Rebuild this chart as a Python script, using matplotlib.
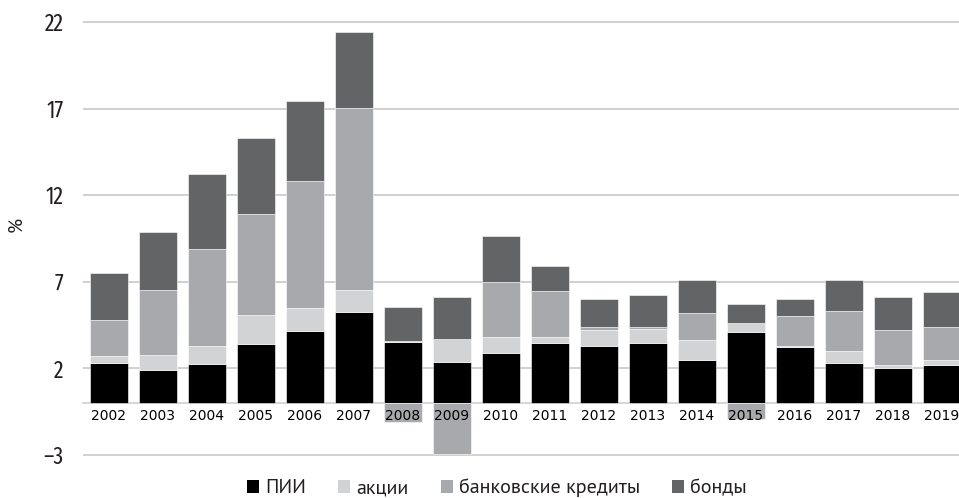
import matplotlib
matplotlib.use("Agg")
import matplotlib.pyplot as plt
from matplotlib.patches import Patch
import numpy as np

years = ["2002", "2003", "2004", "2005", "2006", "2007", "2008", "2009", "2010",
         "2011", "2012", "2013", "2014", "2015", "2016", "2017", "2018", "2019"]
fdi = [2.32, 1.89, 2.28, 3.39, 4.18, 5.28, 3.51, 2.39, 2.87, 3.49, 3.30, 3.49, 2.51, 4.09, 3.22, 2.32, 2.01, 2.18]
equity = [0.38, 0.91, 1.04, 1.72, 1.33, 1.23, 0.10, 1.31, 0.95, 0.33, 0.94, 0.81, 1.11, 0.54, 0.08, 0.67, 0.17, 0.33]
loans = [2.12, 3.71, 5.60, 5.82, 7.31, 10.52, -1.10, -2.97, 3.19, 2.62, 0.17, 0.11, 1.58, -0.90, 1.71, 2.31, 2.02, 1.89]
bonds = [2.69, 3.37, 4.31, 4.37, 4.60, 4.39, 1.92, 2.43, 2.62, 1.48, 1.58, 1.81, 1.93, 1.09, 1.00, 1.83, 1.91, 1.99]

series_names = ["ПИИ", "акции", "банковские кредиты", "бонды"]
colors = ["#000000", "#d1d3d4", "#a7a9ac", "#636466"]
yticks = [-3, 2, 7, 12, 17, 22]
ytick_labels = ["–3", "2", "7", "12", "17", "22"]

tick_font = ["Fira Sans Extra Condensed", "PT Sans Narrow", "DejaVu Sans"]
leg_font = ["PT Sans", "Open Sans", "DejaVu Sans"]

W, H = 959, 498
fig = plt.figure(figsize=(W / 100, H / 100), dpi=100)
y_lo, y_hi = -3.1, 22.1
px_per_unit = (455 - 22) / 25.0
top_px = 22 - (y_hi - 22) * px_per_unit
bot_px = 455 + (-3 - y_lo) * px_per_unit
ax = fig.add_axes([83 / W, 1 - bot_px / H, (W - 83) / W, (bot_px - top_px) / H])

x = np.arange(len(years))
pos_bottom = np.zeros(len(years))
neg_bottom = np.zeros(len(years))
for vals, col in zip([fdi, equity, loans, bonds], colors):
    v = np.array(vals)
    bottoms = np.where(v >= 0, pos_bottom, neg_bottom)
    ax.bar(x, v, width=0.77, bottom=bottoms, color=col, edgecolor="white",
           linewidth=0.4, zorder=2)
    pos_bottom += np.where(v >= 0, v, 0)
    neg_bottom += np.where(v < 0, v, 0)

for t in yticks:
    ax.axhline(t, color="#c8c8c8", linewidth=1.2, zorder=0)

ax.set_axisbelow(False)
ax.set_xlim(-0.53, 17.35)
ax.set_ylim(y_lo, y_hi)
ax.set_yticks(yticks)
ax.set_yticklabels(ytick_labels)
ax.set_xticks(x)
ax.set_xticklabels(years)
for lab in ax.get_xticklabels() + ax.get_yticklabels():
    lab.set_fontfamily(tick_font)
    lab.set_fontweight("regular")
    lab.set_fontsize(17)
    lab.set_color("#231f20")
ax.tick_params(axis="both", length=0)
ax.tick_params(axis="y", pad=14)
ax.tick_params(axis="x", pad=4)
ax.xaxis.set_zorder(3)
for s in ["top", "right", "left"]:
    ax.spines[s].set_visible(False)
ax.spines["bottom"].set_position(("data", 0))
ax.spines["bottom"].set_color("#d0d0d0")
ax.spines["bottom"].set_linewidth(1.2)
ax.spines["bottom"].set_zorder(1)
ax.set_facecolor("none")

fig.text(16 / W, 1 - 224 / H, "%", rotation=90, ha="center", va="center",
         fontfamily=leg_font, fontsize=14, color="#231f20")

handles = [Patch(facecolor=c, edgecolor="none") for c in colors]
fig.legend(handles, series_names, loc="center", bbox_to_anchor=(497 / W, 1 - 488 / H),
           ncol=4, frameon=False, prop={"family": leg_font, "size": 14.5},
           handlelength=0.6, handleheight=0.6, handletextpad=0.3,
           columnspacing=1.6, borderpad=0, labelcolor="#231f20")

fig.savefig("out.png", dpi=100)
